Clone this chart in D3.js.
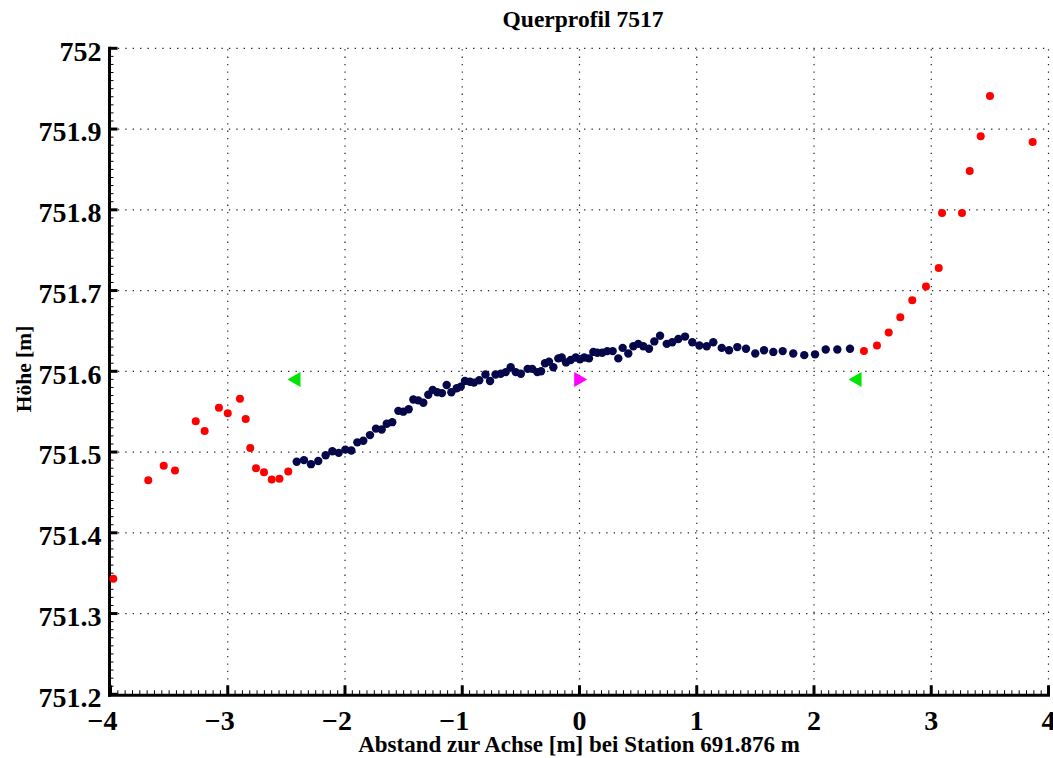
<!DOCTYPE html>
<html>
<head>
<meta charset="utf-8">
<script src="https://cdn.jsdelivr.net/npm/d3@7"></script>
<style>
  html, body { margin: 0; padding: 0; background: #fff; }
  svg { display: block; }
  text { font-family: "Liberation Serif", "Times New Roman", serif; font-weight: bold; fill: #000; }
</style>
</head>
<body>
<svg id="chart" width="1053" height="758"></svg>
<script>
// Cross section 7517: surveyed points (offset from axis [m], elevation [m])
const edgeLeftX  = [-3.976, -3.678, -3.546, -3.450, -3.273, -3.197, -3.075, -3.000, -2.896, -2.847, -2.808, -2.759, -2.691, -2.625, -2.559, -2.484];
const edgeLeftY  = [751.343, 751.465, 751.483, 751.477, 751.538, 751.526, 751.555, 751.548, 751.566, 751.541, 751.505, 751.480, 751.475, 751.466, 751.467, 751.476];

const roadX = [-2.412, -2.350, -2.290, -2.228, -2.165, -2.108, -2.054, -1.997, -1.946, -1.895, -1.844, -1.787, -1.736, -1.687, -1.644, -1.597,
  -1.545, -1.503, -1.457, -1.417, -1.375, -1.332, -1.290, -1.252, -1.213, -1.173, -1.133, -1.093, -1.047, -1.013, -0.977, -0.934,
  -0.900, -0.855, -0.802, -0.763, -0.716, -0.672, -0.629, -0.587, -0.544, -0.500, -0.442, -0.403, -0.360, -0.328, -0.294, -0.260,
  -0.223, -0.181, -0.152, -0.115, -0.075, -0.032, 0.004, 0.041, 0.081, 0.118, 0.152, 0.194, 0.237, 0.283, 0.331, 0.368,
  0.416, 0.459, 0.501, 0.544, 0.593, 0.638, 0.687, 0.744, 0.791, 0.843, 0.900, 0.962, 1.022, 1.085, 1.141, 1.213,
  1.275, 1.346, 1.420, 1.499, 1.574, 1.653, 1.733, 1.823, 1.917, 2.009, 2.100, 2.199, 2.307];
const roadY = [751.488, 751.490, 751.485, 751.489, 751.496, 751.501, 751.499, 751.503, 751.502, 751.512, 751.514, 751.521, 751.529, 751.528, 751.535, 751.537,
  751.551, 751.550, 751.553, 751.565, 751.564, 751.561, 751.571, 751.577, 751.574, 751.573, 751.583, 751.574, 751.579, 751.581, 751.588, 751.587,
  751.586, 751.589, 751.596, 751.588, 751.596, 751.597, 751.599, 751.605, 751.599, 751.597, 751.603, 751.603, 751.599, 751.600, 751.610, 751.612,
  751.605, 751.616, 751.617, 751.611, 751.614, 751.617, 751.615, 751.617, 751.616, 751.624, 751.623, 751.623, 751.625, 751.625, 751.616, 751.629,
  751.622, 751.631, 751.634, 751.631, 751.628, 751.637, 751.644, 751.634, 751.636, 751.640, 751.643, 751.636, 751.632, 751.631, 751.636, 751.629,
  751.626, 751.630, 751.628, 751.622, 751.626, 751.624, 751.625, 751.622, 751.620, 751.621, 751.627, 751.627, 751.628];

const edgeRightX = [2.426, 2.537, 2.637, 2.736, 2.838, 2.955, 3.064, 3.092, 3.262, 3.328, 3.422, 3.501, 3.865];
const edgeRightY = [751.625, 751.632, 751.648, 751.667, 751.688, 751.705, 751.728, 751.796, 751.796, 751.848, 751.891, 751.941, 751.884];

// Road edges (left-pointing) and axis (right-pointing)
const edgeMarkX = [-2.435, 2.350];
const edgeMarkY = [751.590, 751.590];
const axisMarkX = [0.010];
const axisMarkY = [751.590];

const xTicks = [-4, -3, -2, -1, 0, 1, 2, 3, 4];
const yTicks = [751.2, 751.3, 751.4, 751.5, 751.6, 751.7, 751.8, 751.9, 752];
const yTickLabels = ["751.2", "751.3", "751.4", "751.5", "751.6", "751.7", "751.8", "751.9", "752"];

const titleText = "Querprofil 7517";
const xLabelText = "Abstand zur Achse [m] bei Station 691.876 m";
const yLabelText = "Höhe [m]";

const svg = d3.select("#chart");
const plotLeft = 110.5, plotRight = 1048.5, plotTop = 48.3, plotBottom = 694.3;

const x = d3.scaleLinear().domain([-4, 4]).range([plotLeft, plotRight]);
const y = d3.scaleLinear().domain([751.2, 752]).range([plotBottom, plotTop]);

// dotted grid
const grid = svg.append("g").attr("stroke", "#222").attr("stroke-width", 1.2).attr("stroke-dasharray", "1.3,6.1");
grid.selectAll("line.gx").data(xTicks.filter(d => d > -4)).join("line")
  .attr("x1", d => x(d)).attr("x2", d => x(d)).attr("y1", plotBottom).attr("y2", plotTop);
grid.selectAll("line.gy").data(yTicks.filter(d => d > 751.2)).join("line")
  .attr("y1", d => y(d)).attr("y2", d => y(d)).attr("x1", plotLeft).attr("x2", plotRight);

// axes: thick lines, inward ticks
const xMinor = d3.range(0, 129).map(i => -4 + i / 16);
const yMinor = d3.range(0, 81).map(i => 751.2 + i / 100);

const axisG = svg.append("g").attr("stroke", "#000");
axisG.selectAll("line.xm").data(xMinor).join("line")
  .attr("x1", d => x(d)).attr("x2", d => x(d)).attr("y1", plotBottom).attr("y2", plotBottom - 4).attr("stroke-width", 1);
axisG.selectAll("line.ym").data(yMinor).join("line")
  .attr("y1", d => y(d)).attr("y2", d => y(d)).attr("x1", plotLeft - 1).attr("x2", plotLeft + 3).attr("stroke-width", 1);
axisG.selectAll("line.xM").data(xTicks).join("line")
  .attr("x1", d => x(d)).attr("x2", d => x(d)).attr("y1", plotBottom).attr("y2", plotBottom - 9).attr("stroke-width", 3);
axisG.selectAll("line.yM").data(yTicks).join("line")
  .attr("y1", d => y(d)).attr("y2", d => y(d)).attr("x1", plotLeft - 1).attr("x2", plotLeft + 7).attr("stroke-width", 3);
axisG.append("line").attr("x1", plotLeft - 1).attr("x2", plotLeft - 1).attr("y1", plotTop - 1.5).attr("y2", plotBottom + 2.5).attr("stroke-width", 3);
axisG.append("line").attr("x1", plotLeft - 2.5).attr("x2", plotRight + 1.5).attr("y1", plotBottom + 1).attr("y2", plotBottom + 1).attr("stroke-width", 3);

// tick labels
const minusW = 7.9;
svg.append("g").selectAll("text").data(xTicks).join("text")
  .attr("x", d => x(d) - (d < 0 ? minusW : 0))
  .attr("y", 729.5)
  .attr("text-anchor", "middle")
  .attr("font-size", 28)
  .text(d => d < 0 ? "\u2212" + Math.abs(d) : String(d));
svg.append("g").selectAll("text").data(yTicks).join("text")
  .attr("x", 101.5)
  .attr("y", d => y(d) + 12.3)
  .attr("text-anchor", "end")
  .attr("font-size", 28)
  .text((d, i) => yTickLabels[i]);

// titles
svg.append("text").attr("x", 583).attr("y", 26.5).attr("text-anchor", "middle").attr("font-size", 23.5).text(titleText);
svg.append("text").attr("x", 579).attr("y", 752).attr("text-anchor", "middle").attr("font-size", 23).text(xLabelText);
svg.append("text").attr("transform", "translate(31,369) rotate(-90)").attr("text-anchor", "middle").attr("font-size", 21.5).text(yLabelText);

// measured points
const pts = (xs, ys) => xs.map((v, i) => ({ x: v, y: ys[i] }));
svg.append("g").selectAll("circle").data(pts(roadX, roadY)).join("circle")
  .attr("cx", d => x(d.x)).attr("cy", d => y(d.y)).attr("r", 4.2).attr("fill", "#06064a");
svg.append("g").selectAll("circle").data(pts(edgeLeftX, edgeLeftY).concat(pts(edgeRightX, edgeRightY))).join("circle")
  .attr("cx", d => x(d.x)).attr("cy", d => y(d.y)).attr("r", 4.0).attr("fill", "#ff0000");

// triangle markers
const triLeft = "M-6.5,0L6.5,-7.5L6.5,7.5Z";
const triRight = "M6.5,0L-6.5,-7.5L-6.5,7.5Z";
svg.append("g").selectAll("path").data(pts(edgeMarkX, edgeMarkY)).join("path")
  .attr("transform", d => `translate(${x(d.x)},${y(d.y)})`).attr("d", triLeft).attr("fill", "#00e600");
svg.append("g").selectAll("path").data(pts(axisMarkX, axisMarkY)).join("path")
  .attr("transform", d => `translate(${x(d.x)},${y(d.y)})`).attr("d", triRight).attr("fill", "#ff00ff");
</script>
</body>
</html>
